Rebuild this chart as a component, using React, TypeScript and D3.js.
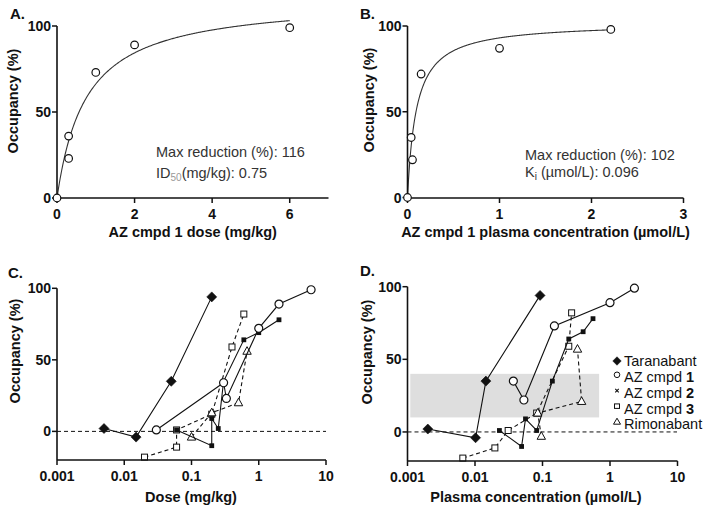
import React from "react";
import * as d3 from "d3";

const FONT = '"Liberation Sans", Arial, Helvetica, sans-serif';

// ---------- Panel A data (dose, mg/kg) ----------
const aDose = [0, 0.3, 0.3, 1, 2, 6];
const aOcc = [0, 36, 23, 73, 89, 99];
const aMax = 116;
const aID50 = 0.75;
const aXTicks = [0, 2, 4, 6];

// ---------- Panel B data (plasma conc, µmol/L) ----------
const bConc = [0, 0.04, 0.054, 0.148, 1.0, 2.21];
const bOcc = [0, 35, 22, 72, 87, 98];
const bMax = 102;
const bKi = 0.096;
const bXTicks = [0, 1, 2, 3];

const yTicksAB = [0, 50, 100];
const yTicksCD = [0, 50, 100];
const logTicks = [0.001, 0.01, 0.1, 1, 10];
const logTickLabels = ["0.001", "0.01", "0.1", "1", "10"];

// ---------- Panel C data (dose, mg/kg) ----------
const cTaraX = [0.005, 0.015, 0.05, 0.2];
const cTaraY = [2, -4, 35, 94];
const cCmpd1X = [0.03, 0.3, 0.33, 1, 2, 6];
const cCmpd1Y = [1, 34, 23, 72, 89, 99];
const cCmpd2X = [0.06, 0.2, 0.2, 0.25, 0.3, 0.6, 1, 2];
const cCmpd2Y = [1, -10, 9, 2, 35, 64, 69, 78];
const cCmpd3X = [0.02, 0.06, 0.06, 0.2, 0.4, 0.6];
const cCmpd3Y = [-18, -11, 1, 12, 59, 82];
const cRimoX = [0.1, 0.2, 0.5, 0.67];
const cRimoY = [-4, 13, 20, 56];

// ---------- Panel D data (plasma conc, µmol/L) ----------
const dTaraX = [0.002, 0.0102, 0.0145, 0.092];
const dTaraY = [2, -4, 35, 94];
const dCmpd1X = [0.037, 0.053, 0.15, 1.0, 2.3];
const dCmpd1Y = [35, 22, 73, 89, 99];
const dCmpd2X = [0.023, 0.049, 0.056, 0.082, 0.14, 0.245, 0.4, 0.56];
const dCmpd2Y = [1, -10, 9, 1, 35, 64, 69, 78];
const dCmpd3X = [0.0066, 0.0197, 0.031, 0.082, 0.245, 0.27];
const dCmpd3Y = [-18, -11, 1, 13, 59, 82];
const dRimoX = [0.096, 0.085, 0.38, 0.33];
const dRimoY = [-3, 13, 21, 57];

const bandRange = [10, 40];
const bandXEnd = 0.69;

const legendNames = ["Taranabant", "AZ cmpd ", "AZ cmpd ", "AZ cmpd ", "Rimonabant"];
const legendBold = ["", "1", "2", "3", ""];
const legendKinds = ["diamond", "circle", "cross", "square", "triangle"];

const INK = "#111";

type Kind = "diamond" | "circle" | "fsquare" | "square" | "triangle" | "cross";

function Marker({ kind, x, y, s = 1 }: { kind: Kind; x: number; y: number; s?: number }) {
  const t = `translate(${x},${y}) scale(${s})`;
  switch (kind) {
    case "diamond":
      return <path transform={t} d="M0,-5L5,0L0,5L-5,0Z" fill={INK} stroke={INK} strokeWidth={0.6} />;
    case "circle":
      return <circle transform={t} r={4} fill="#fff" stroke={INK} strokeWidth={1.2} />;
    case "fsquare":
      return <rect transform={t} x={-2.4} y={-2.4} width={4.8} height={4.8} fill={INK} />;
    case "square":
      return <rect transform={t} x={-3} y={-3} width={6} height={6} fill="#fff" stroke={INK} strokeWidth={1} />;
    case "triangle":
      return <path transform={t} d="M0,-4.6L4.2,3L-4.2,3Z" fill="#fff" stroke={INK} strokeWidth={1} />;
    case "cross":
      return <path transform={t} d="M-2.5,-2.5L2.5,2.5M2.5,-2.5L-2.5,2.5" fill="none" stroke={INK} strokeWidth={1.6} />;
  }
  return null;
}

type Series = { xs: number[]; ys: number[]; kind: Kind; dashed: boolean };

function SeriesPlot({ s, x, y }: { s: Series; x: (v: number) => number; y: (v: number) => number }) {
  const pts = s.xs.map((v, i) => [v, s.ys[i]] as [number, number]);
  const line = d3.line<[number, number]>().x((d) => x(d[0])).y((d) => y(d[1]));
  return (
    <g>
      <path d={line(pts) || ""} fill="none" stroke={INK} strokeWidth={1.1} strokeDasharray={s.dashed ? "4,3" : undefined} />
      {pts.map((p, i) => (
        <Marker key={i} kind={s.kind} x={x(p[0])} y={y(p[1])} />
      ))}
    </g>
  );
}

function YAxis({ y, x0, ticks, yTop, yBot }: { y: (v: number) => number; x0: number; ticks: number[]; yTop: number; yBot: number }) {
  return (
    <g>
      <line x1={x0} x2={x0} y1={yTop} y2={yBot} stroke={INK} strokeWidth={1.6} />
      {ticks.map((t) => (
        <g key={t}>
          <line x1={x0 - 5} x2={x0} y1={y(t)} y2={y(t)} stroke={INK} strokeWidth={1.5} />
          <text x={x0 - 6} y={y(t)} dy="0.36em" textAnchor="end" fontSize={14} fontWeight="bold" fill={INK} fontFamily={FONT}>
            {t}
          </text>
        </g>
      ))}
    </g>
  );
}

function XAxis({ x, y0, ticks, labels, xL, xR }: { x: (v: number) => number; y0: number; ticks: number[]; labels: string[]; xL: number; xR: number }) {
  return (
    <g>
      <line x1={xL} x2={xR} y1={y0} y2={y0} stroke={INK} strokeWidth={1.6} />
      {ticks.map((t, i) => (
        <g key={i}>
          <line x1={x(t)} x2={x(t)} y1={y0} y2={y0 + 5} stroke={INK} strokeWidth={1.5} />
          <text x={x(t)} y={y0 + 21} textAnchor="middle" fontSize={14} fontWeight="bold" fill={INK} fontFamily={FONT}>
            {labels[i]}
          </text>
        </g>
      ))}
    </g>
  );
}

function YLabel({ cx, cy }: { cx: number; cy: number }) {
  return (
    <text transform={`translate(${cx},${cy}) rotate(-90)`} textAnchor="middle" dy="0.36em" fontSize={14.5} fontWeight="bold" fill={INK} fontFamily={FONT}>
      Occupancy (%)
    </text>
  );
}

function Title({ x, y, t }: { x: number; y: number; t: string }) {
  return (
    <text x={x} y={y} fontSize={15} fontWeight="bold" fill={INK} fontFamily={FONT}>
      {t}
    </text>
  );
}

export default function App() {
  // Panel A scales
  const xA = d3.scaleLinear().domain([0, 7]).range([57, 328.5]);
  const yA = d3.scaleLinear().domain([0, 100]).range([198, 26]);
  // Panel B scales
  const xB = d3.scaleLinear().domain([0, 3]).range([407.5, 683.5]);
  const yB = d3.scaleLinear().domain([0, 100]).range([197.5, 26]);
  // Panel C scales
  const xC = d3.scaleLog().domain([0.001, 10]).range([57, 326]);
  const yC = d3.scaleLinear().domain([-20, 100]).range([460, 288.3]);
  // Panel D scales
  const xD = d3.scaleLog().domain([0.001, 10]).range([407.5, 677.5]);
  const yD = d3.scaleLinear().domain([-20, 100]).range([461, 286.7]);

  const fitA = d3.range(0, 6.0001, 0.02).map((v) => [v, (aMax * v) / (aID50 + v)] as [number, number]);
  const fitB = d3.range(0, 2.2001, 0.005).map((v) => [v, (bMax * v) / (bKi + v)] as [number, number]);
  const lineA = d3.line<[number, number]>().x((d) => xA(d[0])).y((d) => yA(d[1]))(fitA) || "";
  const lineB = d3.line<[number, number]>().x((d) => xB(d[0])).y((d) => yB(d[1]))(fitB) || "";

  const cSeries: Series[] = [
    { xs: cCmpd3X, ys: cCmpd3Y, kind: "square", dashed: true },
    { xs: cRimoX, ys: cRimoY, kind: "triangle", dashed: true },
    { xs: cCmpd2X, ys: cCmpd2Y, kind: "fsquare", dashed: false },
    { xs: cCmpd1X, ys: cCmpd1Y, kind: "circle", dashed: false },
    { xs: cTaraX, ys: cTaraY, kind: "diamond", dashed: false },
  ];
  const dSeries: Series[] = [
    { xs: dCmpd3X, ys: dCmpd3Y, kind: "square", dashed: true },
    { xs: dRimoX, ys: dRimoY, kind: "triangle", dashed: true },
    { xs: dCmpd2X, ys: dCmpd2Y, kind: "fsquare", dashed: false },
    { xs: dCmpd1X, ys: dCmpd1Y, kind: "circle", dashed: false },
    { xs: dTaraX, ys: dTaraY, kind: "diamond", dashed: false },
  ];

  const annoStyle = { fontSize: 14.5, fill: "#333", fontFamily: FONT } as const;

  return (
    <svg width={714} height={511} style={{ position: "absolute", left: 0, top: 0, background: "#fff" }}>
      <rect width={714} height={511} fill="#fff" />

      {/* ---------- Panel A ---------- */}
      <Title x={10} y={19} t="A." />
      <YLabel cx={13} cy={101} />
      <path d={lineA} fill="none" stroke="#333" strokeWidth={1.1} />
      <YAxis y={yA} x0={57} ticks={yTicksAB} yTop={yA(100)} yBot={yA(0)} />
      <XAxis x={xA} y0={198} ticks={aXTicks} labels={aXTicks.map(String)} xL={57} xR={xA(7)} />
      {aDose.map((d, i) => (
        <circle key={i} cx={xA(d)} cy={yA(aOcc[i])} r={3.8} fill="#fff" stroke={INK} strokeWidth={1.2} />
      ))}
      <text x={156} y={157} {...annoStyle}>Max reduction (%): {aMax}</text>
      <text x={156} y={178} {...annoStyle}>
        ID<tspan fontSize={10} dy={3} fill="#999">50</tspan>
        <tspan dy={-3}>(mg/kg): {aID50}</tspan>
      </text>
      <text x={xA(3.5)} y={237} textAnchor="middle" fontSize={14.5} fontWeight="bold" fill={INK} fontFamily={FONT}>
        AZ cmpd 1 dose (mg/kg)
      </text>

      {/* ---------- Panel B ---------- */}
      <Title x={360} y={19} t="B." />
      <YLabel cx={368.5} cy={100} />
      <path d={lineB} fill="none" stroke="#333" strokeWidth={1.1} />
      <YAxis y={yB} x0={407.5} ticks={yTicksAB} yTop={yB(100)} yBot={yB(0)} />
      <XAxis x={xB} y0={198} ticks={bXTicks} labels={bXTicks.map(String)} xL={407.5} xR={xB(3)} />
      {bConc.map((d, i) => (
        <circle key={i} cx={xB(d)} cy={yB(bOcc[i])} r={3.8} fill="#fff" stroke={INK} strokeWidth={1.2} />
      ))}
      <text x={525} y={160} {...annoStyle}>Max reduction (%): {bMax}</text>
      <text x={525} y={177} {...annoStyle}>
        K<tspan fontSize={10} dy={3}>i</tspan>
        <tspan dy={-3}> (µmol/L): {bKi}</tspan>
      </text>
      <text x={xB(1.5)} y={237} textAnchor="middle" fontSize={14.5} fontWeight="bold" fill={INK} fontFamily={FONT}>
        AZ cmpd 1 plasma concentration (µmol/L)
      </text>

      {/* ---------- Panel C ---------- */}
      <Title x={8} y={278} t="C." />
      <YLabel cx={15} cy={351} />
      <line x1={57} x2={326} y1={yC(0)} y2={yC(0)} stroke={INK} strokeWidth={1} strokeDasharray="4,3" />
      {cSeries.map((s, i) => (
        <SeriesPlot key={i} s={s} x={xC} y={yC} />
      ))}
      <YAxis y={yC} x0={57} ticks={yTicksCD} yTop={yC(100)} yBot={yC(-20)} />
      <XAxis x={xC} y0={yC(-20)} ticks={logTicks} labels={logTickLabels} xL={57} xR={326} />
      <text x={191} y={502} textAnchor="middle" fontSize={14.5} fontWeight="bold" fill={INK} fontFamily={FONT}>
        Dose (mg/kg)
      </text>

      {/* ---------- Panel D ---------- */}
      <Title x={360} y={276} t="D." />
      <YLabel cx={367} cy={352} />
      <rect x={xD(0.0011)} y={yD(bandRange[1])} width={xD(bandXEnd) - xD(0.0011)} height={yD(bandRange[0]) - yD(bandRange[1])} fill="#dedede" />
      <line x1={407.5} x2={677} y1={yD(0)} y2={yD(0)} stroke={INK} strokeWidth={1} strokeDasharray="4,3" />
      {dSeries.map((s, i) => (
        <SeriesPlot key={i} s={s} x={xD} y={yD} />
      ))}
      <YAxis y={yD} x0={407.5} ticks={yTicksCD} yTop={yD(100)} yBot={yD(-20)} />
      <XAxis x={xD} y0={yD(-20)} ticks={logTicks} labels={logTickLabels} xL={407.5} xR={677.5} />
      <text x={536} y={502} textAnchor="middle" fontSize={14.5} fontWeight="bold" fill={INK} fontFamily={FONT}>
        Plasma concentration (µmol/L)
      </text>

      {/* Legend */}
      {legendNames.map((n, i) => {
        const ly = 361 + i * 15.8;
        const k = legendKinds[i];
        return (
          <g key={i}>
            {k === "diamond" && <Marker kind="diamond" x={617} y={ly} s={0.85} />}
            {k === "circle" && <circle cx={617} cy={ly - 2} r={2.8} fill="#fff" stroke={INK} strokeWidth={1} />}
            {k === "cross" && <Marker kind="cross" x={617} y={ly - 2} s={0.7} />}
            {k === "square" && <rect x={614.5} y={ly - 4.5} width={5} height={4.5} fill="#fff" stroke={INK} strokeWidth={1} />}
            {k === "triangle" && <path d={`M617,${ly - 6}L620.5,${ly}L613.5,${ly}Z`} fill="#fff" stroke={INK} strokeWidth={1} />}
            <text x={624} y={ly} dy="0.36em" fontSize={14.5} fill={INK} fontFamily={FONT}>
              {n}
              {legendBold[i] && <tspan fontWeight="bold">{legendBold[i]}</tspan>}
            </text>
          </g>
        );
      })}
    </svg>
  );
}
